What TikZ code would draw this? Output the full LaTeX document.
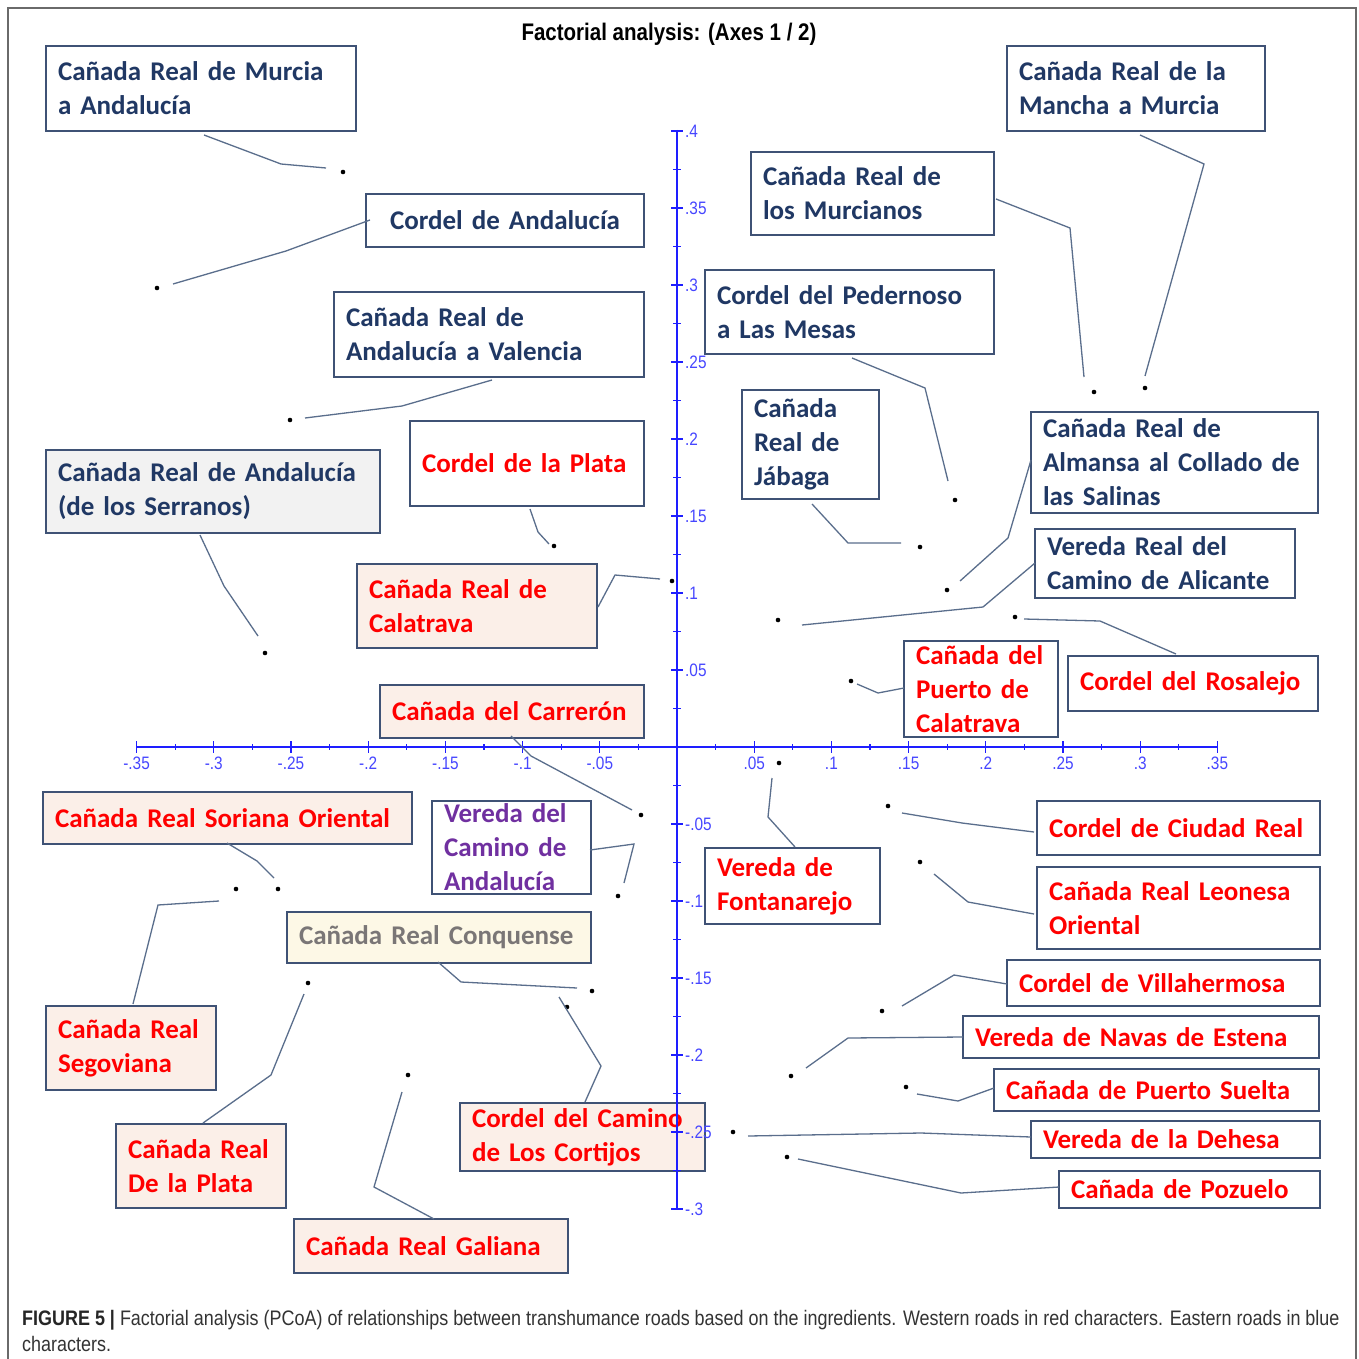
\documentclass[tikz,border=0pt]{standalone}
\usepackage{fontspec}
\setmainfont{Carlito}
\newfontfamily\capf[FakeStretch=0.855]{Liberation Sans}
\usetikzlibrary{calc}
\definecolor{navyt}{HTML}{203864}
\definecolor{redt}{HTML}{FF0000}
\definecolor{purpt}{HTML}{7030A0}
\definecolor{grayt}{HTML}{7A7676}
\definecolor{boxc}{HTML}{3F5275}
\definecolor{leadc}{HTML}{5A6E8C}
\definecolor{pinkf}{HTML}{FBEFE8}
\definecolor{grayf}{HTML}{F2F2F2}
\definecolor{creamf}{HTML}{FDF8E6}
\definecolor{axisc}{RGB}{30,30,255}
\definecolor{axlabc}{RGB}{70,70,255}
\definecolor{framec}{HTML}{6A6A6A}
\definecolor{capc}{HTML}{333333}
\newcommand\lblfont{\fontsize{27}{34}\selectfont\bfseries}
\newcommand\ds{\hspace{0.34em}}
\begin{document}
\begin{tikzpicture}[x=1pt,y=-1pt,
  box/.style={draw=boxc, line width=1.4pt, anchor=north west, inner xsep=12pt, inner ysep=0pt, outer sep=0pt, align=left, font=\lblfont},
  wbox/.style={box, fill=white},
  pbox/.style={box, fill=pinkf, text=redt},
  navyb/.style={wbox, text=navyt},
  redb/.style={wbox, text=redt},
  leader/.style={draw=leadc, line width=1.3pt},
  dot/.style={circle, fill=black, inner sep=0pt, minimum size=4.6pt},
  axisl/.style={draw=axisc, line width=1.3pt},
  axlab/.style={font=\capf\fontsize{18}{20}\selectfont, text=axlabc, inner sep=0pt}]
\useasboundingbox (0,0) rectangle (1358,1359);
\fill[white] (0,0) rectangle (1358,1359);
\draw[framec, line width=1.5pt] (8,1359) -- (8,8) -- (1356,8) -- (1356,1359);

\node[font=\capf\bfseries\fontsize{24}{28}\selectfont] (title) at (669,34) {Factorial analysis: (Axes 1 / 2)};

% boxes, left side
\node[navyb, text width=286pt, minimum height=85pt] (b1) at (46,46) {\mbox{Cañada\ds Real de Murcia}\\\mbox{a Andalucía}};
\node[navyb, text width=254pt, minimum height=53pt, align=center] (b2) at (366,194) {\mbox{Cordel de Andalucía}};
\node[navyb, text width=286pt, minimum height=85pt] (b3) at (334,292) {\mbox{Cañada\ds Real de}\\\mbox{Andalucía\ds a Valencia}};
\node[box, fill=grayf, text=navyt, text width=310pt, minimum height=83pt] (b4) at (46,450) {\mbox{Cañada\ds Real de Andalucía}\\\mbox{(de los Serranos)}};
\node[redb, text width=210pt, minimum height=85pt] (b5) at (410,421) {\mbox{Cordel de la Plata}};
\node[pbox, text width=216pt, minimum height=84pt] (b6) at (357,564) {\mbox{Cañada\ds Real de}\\\mbox{Calatrava}};
\node[pbox, text width=240pt, minimum height=53pt] (b7) at (380,685) {\mbox{Cañada\ds del Carrerón}};
\node[pbox, text width=345pt, minimum height=52pt] (b8) at (43,792) {\mbox{Cañada\ds Real Soriana\ds Oriental}};
\node[wbox, text=purpt, text width=135pt, minimum height=93pt] (b9) at (432,801) {\mbox{Vereda del}\\\mbox{Camino\ds de}\\\mbox{Andalucía}};
\node[box, fill=creamf, text=grayt, text width=280pt, minimum height=51pt] (b10) at (287,912) {\mbox{Cañada\ds Real Conquense}};
\node[pbox, text width=146pt, minimum height=84pt] (b11) at (46,1006) {\mbox{Cañada\ds Real}\\\mbox{Segoviana}};
\node[pbox, text width=146pt, minimum height=84pt] (b12) at (116,1124) {\mbox{Cañada\ds Real}\\\mbox{De la Plata}};
\node[pbox, text width=250pt, minimum height=54pt] (b13) at (294,1219) {\mbox{Cañada\ds Real Galiana}};
\node[pbox, text width=221pt, minimum height=68pt] (b14) at (460,1103) {\mbox{Cordel del Camino}\\\mbox{de Los Cortijos}};

% boxes, right side
\node[navyb, text width=234pt, minimum height=85pt] (b15) at (1007,46) {\mbox{Cañada\ds Real de la}\\\mbox{Mancha a Murcia}};
\node[navyb, text width=219pt, minimum height=83pt] (b16) at (751,152) {\mbox{Cañada\ds Real de}\\\mbox{los Murcianos}};
\node[navyb, text width=265pt, minimum height=84pt] (b17) at (705,270) {\mbox{Cordel del Pedernoso}\\\mbox{a Las Mesas}};
\node[navyb, text width=113pt, minimum height=109pt] (b18) at (742,390) {\mbox{Cañada}\\\mbox{Real de}\\\mbox{Jábaga}};
\node[navyb, text width=263pt, minimum height=101pt] (b19) at (1031,412) {\mbox{Cañada\ds Real de}\\\mbox{Almansa\ds al Collado de}\\\mbox{las Salinas}};
\node[navyb, text width=236pt, minimum height=69pt] (b20) at (1035,529) {\mbox{Vereda Real del}\\\mbox{Camino de Alicante}};
\node[redb, text width=130pt, minimum height=96pt] (b21) at (904,641) {\mbox{Cañada\ds del}\\\mbox{Puerto\ds de}\\\mbox{Calatrava}};
\node[redb, text width=226pt, minimum height=55pt] (b22) at (1068,656) {\mbox{Cordel del Rosalejo}};
\node[redb, text width=151pt, minimum height=76pt] (b30) at (705,848) {\mbox{Vereda de}\\\mbox{Fontanarejo}};
\node[redb, text width=259pt, minimum height=54pt] (b23) at (1037,801) {\mbox{Cordel de Ciudad\ds Real}};
\node[redb, text width=259pt, minimum height=82pt] (b24) at (1037,867) {\mbox{Cañada\ds Real Leonesa}\\\mbox{Oriental}};
\node[redb, text width=289pt, minimum height=46pt] (b25) at (1007,960) {\mbox{Cordel de Villahermosa}};
\node[redb, text width=332pt, minimum height=42pt] (b26) at (963,1016) {\mbox{Vereda de Navas de Estena}};
\node[redb, text width=301pt, minimum height=42pt] (b27) at (994,1069) {\mbox{Cañada\ds de Puerto Suelta}};
\node[redb, text width=265pt, minimum height=37pt] (b28) at (1031,1121) {\mbox{Vereda de la Dehesa}};
\node[redb, text width=237pt, minimum height=37pt] (b29) at (1059,1171) {\mbox{Cañada\ds de Pozuelo}};

% axes
\draw[axisl] (137,747) -- (1218,747);
\draw[axisl] (677,130) -- (677,1209);
\foreach \k in {-7,...,7} {\draw[axisl] ({677+77.2*\k},741) -- ({677+77.2*\k},753);}
\foreach \k in {-7,...,6} {\draw[axisl] ({677+77.2*(\k+0.5)},744) -- ({677+77.2*(\k+0.5)},750);}
\foreach \k in {-6,...,8} {\draw[axisl] (671,{747-77*\k}) -- (683,{747-77*\k});}
\foreach \k in {-6,...,7} {\draw[axisl] (673,{747-77*(\k+0.5)}) -- (681,{747-77*(\k+0.5)});}
\foreach \k/\t in {-7/-.35,-6/-.3,-5/-.25,-4/-.2,-3/-.15,-2/-.1,-1/-.05,1/.05,2/.1,3/.15,4/.2,5/.25,6/.3,7/.35}
  {\node[axlab, anchor=north] (hl\k) at ({677+77.2*\k},757) {\t};}
\foreach \k/\t in {8/.4,7/.35,6/.3,5/.25,4/.2,3/.15,2/.1,1/.05,-1/-.05,-2/-.1,-3/-.15,-4/-.2,-5/-.25,-6/-.3}
  {\node[axlab, anchor=west] (vl\k) at (685,{747-77*\k}) {\t};}

% dots
\node[dot] (d1) at (343,172) {};
\node[dot] (d2) at (157,288) {};
\node[dot] (d3) at (290,420) {};
\node[dot] (d4) at (265,653) {};
\node[dot] (d5) at (554,546) {};
\node[dot] (d6) at (672,581) {};
\node[dot] (d7) at (641,815) {};
\node[dot] (d8) at (278,889) {};
\node[dot] (d9) at (618,896) {};
\node[dot] (d10) at (592,991) {};
\node[dot] (d11) at (236,889) {};
\node[dot] (d12) at (308,983) {};
\node[dot] (d13) at (408,1075) {};
\node[dot] (d14) at (567,1007) {};
\node[dot] (d15) at (1145,388) {};
\node[dot] (d16) at (1094,392) {};
\node[dot] (d17) at (955,500) {};
\node[dot] (d18) at (920,547) {};
\node[dot] (d19) at (947,590) {};
\node[dot] (d20) at (778,620) {};
\node[dot] (d21) at (851,681) {};
\node[dot] (d22) at (1015,617) {};
\node[dot] (d23) at (888,806) {};
\node[dot] (d24) at (920,862) {};
\node[dot] (d25) at (882,1011) {};
\node[dot] (d26) at (791,1076) {};
\node[dot] (d27) at (906,1087) {};
\node[dot] (d28) at (733,1132) {};
\node[dot] (d29) at (787,1157) {};
\node[dot] (d30) at (779,763) {};

% leaders
\draw[leader] (b1.north west) ++(158,89) -- (281,164) -- ($(d1)+(-17,-4)$);
\draw[leader] (b2.north west) ++(4,26) -- (286,251) -- ($(d2)+(16,-4)$);
\draw[leader] (b3.north west) ++(158,88) -- (402,406) -- ($(d3)+(15,-2)$);
\draw[leader] (b4.north west) ++(154,85) -- (224,586) -- ($(d4)+(-7,-17)$);
\draw[leader] (b5.north west) ++(120,88) -- (538,532) -- ($(d5)+(-5,-2)$);
\draw[leader] (b6.north west) ++(241,43) -- (615,575) -- ($(d6)+(-12,-2)$);
\draw[leader] (b7.north west) ++(131,51) -- (531,756) -- ($(d7)+(-9,-5)$);
\draw[leader] (b8.north west) ++(184,51) -- (257,861) -- ($(d8)+(-4,-11)$);
\draw[leader] (b9.north west) ++(158,49) -- (634,844) -- ($(d9)+(6,-13)$);
\draw[leader] (b10.north west) ++(151,50) -- (461,982) -- ($(d10)+(-15,-3)$);
\draw[leader] (b11.north west) ++(87,-2) -- (158,905) -- ($(d11)+(-17,12)$);
\draw[leader] (b12.north west) ++(87,-1) -- (271,1075) -- ($(d12)+(-4,11)$);
\draw[leader] (b13.north west) ++(140,0) -- (374,1187) -- ($(d13)+(-6,17)$);
\draw[leader] (b14.north west) ++(125,-1) -- (601,1066) -- ($(d14)+(-8,-10)$);
\draw[leader] (b15.north west) ++(133,89) -- (1204,164) -- ($(d15)+(0,-12)$);
\draw[leader] (b16.north west) ++(245,47) -- (1070,228) -- ($(d16)+(-10,-15)$);
\draw[leader] (b17.north west) ++(147,88) -- (925,388) -- ($(d17)+(-7,-19)$);
\draw[leader] (b18.north west) ++(70,114) -- (848,543) -- ($(d18)+(-19,-4)$);
\draw[leader] (b19.north west) ++(0,48) -- (1008,538) -- ($(d19)+(13,-9)$);
\draw[leader] (b20.north west) ++(0,34) -- (983,607) -- ($(d20)+(24,5)$);
\draw[leader] (b21.north west) ++(0,47) -- (878,693) -- ($(d21)+(6,3)$);
\draw[leader] (b22.north west) ++(108,-2) -- (1100,621) -- ($(d22)+(9,2)$);
\draw[leader] (b23.north west) ++(-3,31) -- (962,823) -- ($(d23)+(14,7)$);
\draw[leader] (b24.north west) ++(-3,47) -- (968,902) -- ($(d24)+(14,12)$);
\draw[leader] (b25.north west) ++(0,24) -- (954,975) -- ($(d25)+(20,-5)$);
\draw[leader] (b26.north west) ++(0,21) -- (848,1038) -- ($(d26)+(15,-8)$);
\draw[leader] (b27.north west) ++(0,19) -- (958,1101) -- ($(d27)+(11,7)$);
\draw[leader] (b28.north west) ++(0,16) -- (921,1133) -- ($(d28)+(15,4)$);
\draw[leader] (b29.north west) ++(0,16) -- (961,1193) -- ($(d29)+(11,2)$);
\draw[leader] (b30.north west) ++(90,-1) -- (768,817) -- ($(d30)+(-7,15)$);

% caption
\node[anchor=north west, align=left, inner sep=0pt, text=capc, font=\capf\fontsize{21}{26}\selectfont] (cap) at (22,1310)
  {{\bfseries\color{black!85}FIGURE 5 |} Factorial analysis (PCoA) of relationships between transhumance roads based on the ingredients. Western roads in red characters. Eastern roads in blue\\characters.};
\end{tikzpicture}
\end{document}
